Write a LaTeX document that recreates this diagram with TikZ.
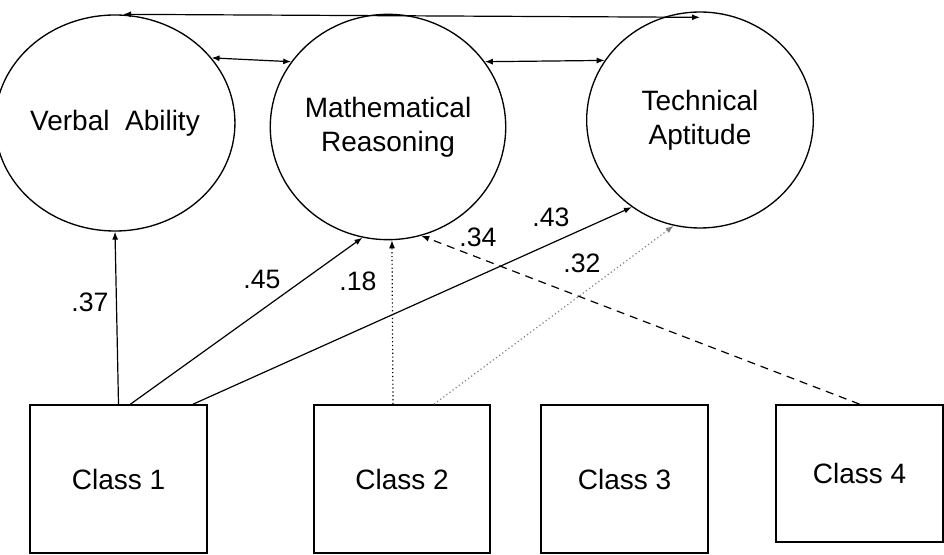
\documentclass[tikz,border=0pt]{standalone}
\usepackage{fontspec}
\setmainfont{Liberation Sans}
\usepackage{tikz}
\usetikzlibrary{shapes.geometric,arrows.meta}

\begin{document}
\begin{tikzpicture}[x=0.75pt,y=0.75pt,yscale=-1,xscale=1,
  latent/.style={draw,ellipse,line width=1pt,inner sep=0pt,align=center,font=\fontsize{21}{25.5}\selectfont},
  classbox/.style={draw,rectangle,line width=1.3pt,inner sep=0pt,font=\fontsize{21}{25.5}\selectfont},
  coef/.style={inner sep=0.75pt,font=\fontsize{20}{24}\selectfont},
  path/.style={line width=0.9pt,-{Latex[length=6pt,width=4.5pt]}},
  corr/.style={line width=0.9pt,{Latex[length=6pt,width=4.5pt]}-{Latex[length=6pt,width=4.5pt]}}]
\useasboundingbox (0,0) rectangle (944,555);

% Latent Node
\draw (115,123) node [latent,minimum width=168.75pt,minimum height=162pt] (va) {Verbal\ \ Ability};
% Latent Node
\draw (388,127) node [latent,minimum width=168.75pt,minimum height=169pt] (mr) {Mathematical\\Reasoning};
% Latent Node
\draw (700,120) node [latent,minimum width=170pt,minimum height=162pt] (ta) {Technical\\Aptitude};
% Class Node
\draw (118.5,479) node [classbox,minimum width=132.75pt,minimum height=111pt] (c1) {Class 1};
% Class Node
\draw (402,479) node [classbox,minimum width=132pt,minimum height=111pt] (c2) {Class 2};
% Class Node
\draw (624.5,479) node [classbox,minimum width=125.25pt,minimum height=111pt] (c3) {Class 3};
% Class Node
\draw (859.5,473.5) node [classbox,minimum width=125.25pt,minimum height=102.75pt] (c4) {Class 4};
% Text Node
\draw (90,302) node [coef] (l37) {.37};
% Text Node
\draw (262,279) node [coef] (l45) {.45};
% Text Node
\draw (358,281) node [coef] (l18) {.18};
% Text Node
\draw (478,237) node [coef] (l34) {.34};
% Text Node
\draw (551,217) node [coef] (l43) {.43};
% Text Node
\draw (582,263) node [coef] (l32) {.32};
% Connection
\draw [corr] ([xshift=6pt]va.north) -- ([yshift=4.5pt]ta.north) ;
% Connection
\draw [corr] (va.34) -- (mr.146) ;
% Connection
\draw [corr] (mr.34) -- (ta.148) ;
% Connection
\draw [path] (c1.north) -- (va.south) ;
% Connection
\draw [path] ([xshift=9pt]c1.north) -- (mr.257) ;
% Connection
\draw [path] ([xshift=56pt]c1.north) -- (ta.232) ;
% Connection
\draw [path,dotted] ([xshift=-6.75pt]c2.north) -- (mr.272) ;
% Connection
\draw [path,dotted,draw=gray] ([xshift=24pt]c2.north) -- (ta.256) ;
% Connection
\draw [path,dash pattern={on 6pt off 4.5pt}] (c4.north) -- (mr.287) ;

\end{tikzpicture}
\end{document}
